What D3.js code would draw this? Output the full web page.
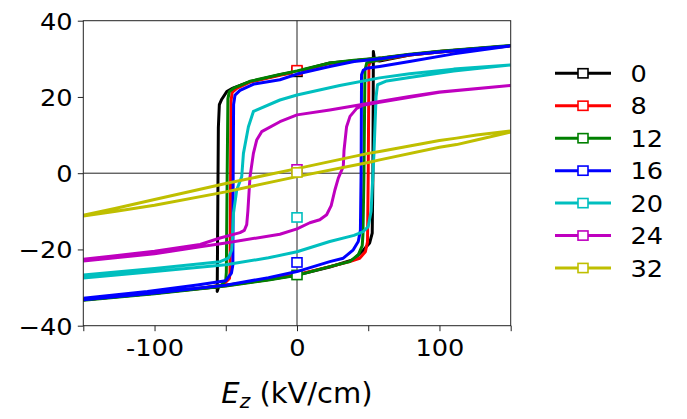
<!DOCTYPE html>
<html>
<head>
<meta charset="utf-8">
<script src="https://cdn.jsdelivr.net/npm/d3@7"></script>
<style>
  html, body { margin: 0; padding: 0; background: #fff; }
  svg { display: block; }
  text { font-family: "DejaVu Sans", sans-serif; fill: #000; }
</style>
</head>
<body>
<svg id="chart" width="687" height="419"></svg>
<script>
// ---------------- data ----------------
const labels = ["0", "8", "12", "16", "20", "24", "32"];
const colors = ["#000000", "#ff0000", "#008000", "#0000ff", "#00bfbf", "#bf00bf", "#bfbf00"];

// each loop: [E (kV/cm), P] pairs — upper branch (+150 -> -150) then lower branch (-150 -> +150)
const loop0 = [[150,33.4],[120,32.5],[100,31.9],[79,31.1],[60,30.2],[40,29.5],[23,28.9],[0,26.7],[-12,25.8],[-33,24.0],[-45,22.3],[-49.3,21.4],[-52.8,19.4],[-54.5,18.0],[-55.2,12],[-55.8,-20],[-56,-31],[-55,-29.8],[-70,-30.3],[-100,-31.4],[-150,-33.2],
  [-100,-31.5],[-54,-29.6],[-20,-27.9],[0,-26.7],[23,-24.6],[39.5,-22.7],[46.5,-20.2],[51,-18.3],[52.8,-15.7],[53.3,0],[53.6,31.9],[54.5,29.6],[58,29.4],[79,31.0],[100,31.8],[150,33.4]];
const loop8 = [[150,33.4],[100,31.9],[79,31.1],[60,30.2],[40,29.5],[23,28.8],[0,26.6],[-12,25.7],[-33,23.9],[-42,22.3],[-45.5,21.2],[-46.3,19],[-46.6,0],[-47,-26],[-47.4,-27.6],[-52,-29.3],[-70,-30.3],[-100,-31.5],[-150,-33.2],
  [-100,-31.5],[-50,-29.5],[-20,-27.9],[0,-26.6],[23,-24.5],[37,-23.2],[44,-22.3],[48,-20.6],[49.5,-18],[50,0],[50.5,28.5],[52,29.3],[60,29.8],[79,31.0],[100,31.8],[150,33.4]];
const loop12 = [[150,33.5],[100,32.0],[79,31.2],[60,30.3],[40,29.6],[23,28.9],[0,26.8],[-12,25.9],[-33,24.1],[-44,22.4],[-47.5,21.4],[-48.5,19.5],[-49,0],[-49.6,-26],[-50,-28],[-53,-29.4],[-70,-30.4],[-100,-31.6],[-150,-33.3],
  [-100,-31.6],[-50,-29.6],[-20,-28],[0,-26.8],[23,-24.5],[37,-23.2],[43,-21.4],[45.8,-19],[46.3,-16],[47,0],[47.7,27],[49,29],[60,29.9],[79,31.1],[100,31.9],[150,33.5]];
const loop16 = [[150,33.4],[100,31.8],[79,31.1],[60,30.1],[40,29.3],[23,28.0],[0,26.0],[-12,24.5],[-30,23.4],[-40,21.7],[-43.5,20.5],[-44.5,18],[-44.8,0],[-45,-24],[-46,-26.2],[-50,-28.2],[-70,-29.3],[-105,-31],[-150,-32.8],
  [-150,-33.2],[-100,-31.4],[-50,-29.4],[-20,-27.4],[0,-25.8],[23,-23.2],[32.5,-22.3],[39.5,-20.1],[43,-17.9],[44.5,-15],[45,0],[45.3,25.8],[46.5,27],[48.8,27.5],[58,28],[79,29.3],[110,31.3],[150,33.4]];
const loop20 = [[150,28.4],[110,27.3],[79,26.1],[58,25],[30,23],[0,20.5],[-12,19.2],[-30.6,16.2],[-34.1,12.2],[-37.6,5.2],[-38.8,-0.9],[-42.3,-4.4],[-44.6,-10.5],[-45.3,-16.6],[-45.8,-20.1],[-48.1,-22.3],[-54,-23.2],[-100,-25],[-150,-26.7],
  [-150,-27.5],[-100,-25.8],[-50,-24],[-20,-22.2],[0,-20.6],[23,-17.9],[40,-16.3],[46.5,-15.3],[50,-14],[52,-10],[54,5],[55.5,20],[56.5,23.2],[63,24.2],[79,25.1],[110,26.8],[150,28.4]];
const loop24 = [[150,23],[100,21.3],[79,20.1],[58,18.8],[23,16.6],[0,15.3],[-12,13.5],[-24.8,10.9],[-28.3,8.7],[-30.6,5.2],[-33,-1],[-34.5,-10],[-35.3,-13.5],[-37,-15],[-40,-15.6],[-54,-17],[-68,-18.7],[-100,-20.5],[-150,-22.6],
  [-150,-23],[-100,-21.1],[-68,-19.3],[-50,-18.3],[-12,-16],[0,-14.6],[9,-13],[16,-12.2],[20.8,-10.9],[24,-8.5],[26.6,-4.4],[29,-1.3],[32.5,1.8],[33,6],[34.8,12.2],[37.2,14.9],[41.9,17],[46,17.8],[58,18.6],[100,21.2],[150,23]];
const loop32 = [[150,11.1],[126,10],[112,9.2],[100,8.6],[58,5.7],[50,5.2],[0,1.2],[-50,-2.7],[-100,-6.9],[-127,-9.2],[-150,-11],
  [-150,-11.2],[-127,-10],[-100,-8.4],[-50,-4.9],[0,-0.9],[50,2.8],[58,3.5],[100,6.8],[112,7.5],[126,8.7],[150,10.8]];
const loops = [loop0, loop8, loop12, loop16, loop20, loop24, loop32];

// square markers (at E = 0)
const markerE = [0, 0, 0, 0, 0, 0, 0];
const markerP = [26.6, 27.0, -26.7, -23.4, -11.6, 1.0, 0.2];

const xTicks = [-150, -100, -50, 0, 50, 100, 150];
const xTickLabels = ["", "-100", "", "0", "", "100", ""];
const yTicks = [-40, -20, 0, 20, 40];
const yTickLabels = ["\u221240", "\u221220", "0", "20", "40"];

// ---------------- drawing ----------------
const SX = 1.1;           // horizontal text stretch of the reference
const FS = 23.3;          // tick / legend font size
const svg = d3.select("#chart");
const L = 83.3, R = 510.7, T = 20.7, B = 325.7;
const x = d3.scaleLinear().domain([-150, 150]).range([L, R]);
const y = d3.scaleLinear().domain([-40, 40]).range([B, T]);

svg.append("defs").append("clipPath").attr("id", "clip")
  .append("rect").attr("x", L).attr("y", T).attr("width", R - L).attr("height", B - T);

// zero lines
svg.append("line").attr("x1", L).attr("x2", R).attr("y1", y(0)).attr("y2", y(0))
  .attr("stroke", "#222").attr("stroke-width", 1);
svg.append("line").attr("x1", x(0)).attr("x2", x(0)).attr("y1", T).attr("y2", B)
  .attr("stroke", "#222").attr("stroke-width", 1);

const line = d3.line().x(d => x(d[0])).y(d => y(d[1]));
const plot = svg.append("g").attr("clip-path", "url(#clip)");
loops.forEach((lp, i) => {
  plot.append("path").datum(lp).attr("d", line)
    .attr("fill", "none").attr("stroke", colors[i]).attr("stroke-width", 3)
    .attr("stroke-linejoin", "round");
  plot.append("rect")
    .attr("x", x(markerE[i]) - 5).attr("y", y(markerP[i]) - 4.6)
    .attr("width", 10).attr("height", 9.2)
    .attr("fill", "#fff").attr("stroke", colors[i]).attr("stroke-width", 1.6);
});

// frame
svg.append("rect").attr("x", L).attr("y", T).attr("width", R - L).attr("height", B - T)
  .attr("fill", "none").attr("stroke", "#222").attr("stroke-width", 1);

// axes
const xAxis = svg.append("g").attr("transform", `translate(0,${B})`)
  .call(d3.axisBottom(x).tickValues(xTicks).tickSize(5.5).tickFormat((d, i) => xTickLabels[i]));
xAxis.select(".domain").remove();
xAxis.selectAll(".tick line").attr("stroke", "#222").attr("stroke-width", 1);
xAxis.selectAll(".tick text").attr("y", 30.3).attr("dy", 0)
  .style("font-size", FS + "px").style("font-family", "DejaVu Sans").attr("fill", "#000")
  .attr("transform", `scale(${SX},1)`);

const yAxis = svg.append("g").attr("transform", `translate(${L},0)`)
  .call(d3.axisLeft(y).tickValues(yTicks).tickSize(5.5).tickFormat((d, i) => yTickLabels[i]));
yAxis.select(".domain").remove();
yAxis.selectAll(".tick line").attr("stroke", "#222").attr("stroke-width", 1);
yAxis.selectAll(".tick text").attr("x", -9.8).attr("dy", "0.36em")
  .style("font-size", FS + "px").style("font-family", "DejaVu Sans").attr("fill", "#000")
  .attr("transform", `scale(${SX},1)`);

// x-axis title
const title = svg.append("text")
  .attr("transform", `translate(${(L + R) / 2},403)`)
  .attr("text-anchor", "middle").style("font-size", "29px");
title.append("tspan").attr("font-style", "italic").text("E");
title.append("tspan").attr("font-style", "italic").style("font-size", "20px").attr("dy", 5).text("z");
title.append("tspan").attr("dy", -5).text(" (kV/cm)");

// legend
const legY0 = 73.3, legStep = 32.45;
labels.forEach((lab, i) => {
  const yy = legY0 + i * legStep;
  const g = svg.append("g");
  g.append("line").attr("x1", 555).attr("x2", 611).attr("y1", yy).attr("y2", yy)
    .attr("stroke", colors[i]).attr("stroke-width", 3);
  g.append("rect").attr("x", 583 - 5).attr("y", yy - 4.6).attr("width", 10).attr("height", 9.2)
    .attr("fill", "#fff").attr("stroke", colors[i]).attr("stroke-width", 1.6);
  g.append("text").attr("transform", `translate(630.5,${yy + 8.5}) scale(${SX},1)`)
    .style("font-size", FS + "px").text(lab);
});
</script>
</body>
</html>
